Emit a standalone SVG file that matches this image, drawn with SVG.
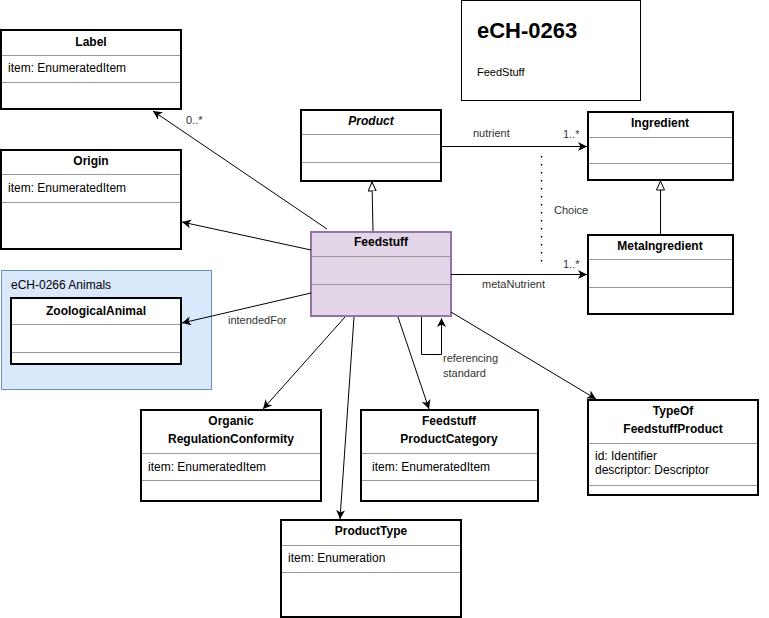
<svg xmlns="http://www.w3.org/2000/svg" width="769" height="618" viewBox="0 0 769 618">
<defs>
<marker id="arr" markerWidth="10" markerHeight="10" refX="9" refY="4.5" orient="auto" markerUnits="userSpaceOnUse">
<path d="M0,0 L9,4.5 L0,9 L2.5,4.5 z" fill="#000"/>
</marker>
<marker id="gen" markerWidth="12" markerHeight="12" refX="9.5" refY="4.5" orient="auto" markerUnits="userSpaceOnUse">
<path d="M0.5,0.5 L9.5,4.5 L0.5,8.5 z" fill="#fff" stroke="#000" stroke-width="1"/>
</marker>
</defs>
<style>
text{font-family:"Liberation Sans",Arial,sans-serif;font-size:12px;fill:#000}
.t{font-weight:bold;text-anchor:middle}
.c{text-anchor:middle}
.box{fill:#fff;stroke:#000;stroke-width:2}
.sep{stroke:#999;stroke-width:1}
.lbl{fill:#333;font-size:11px}
.edge{stroke:#000;stroke-width:1;fill:none}
</style>
<rect width="769" height="618" fill="#fff"/>

<g id="title">
<rect x="461.5" y="0.5" width="179" height="100" fill="#fff" stroke="#000" stroke-width="1"/>
<text x="477" y="38" style="font-size:22px;font-weight:bold">eCH-0263</text>
<text x="477" y="76" style="font-size:11px">FeedStuff</text>
</g>

<g id="animals-pkg">
<rect x="1.5" y="270.5" width="210" height="119" fill="#dae8fc" stroke="#6c8ebf" stroke-width="1"/>
<text x="11" y="289">eCH-0266 Animals</text>
</g>

<g id="label">
<rect class="box" x="1" y="30" width="180" height="79"/>
<line class="sep" x1="2" y1="55.5" x2="180" y2="55.5"/>
<line class="sep" x1="2" y1="82.5" x2="180" y2="82.5"/>
<text class="t" x="91" y="46">Label</text>
<text x="8" y="72">item: EnumeratedItem</text>
</g>

<g id="origin">
<rect class="box" x="1" y="150" width="180" height="99"/>
<line class="sep" x1="2" y1="174.5" x2="180" y2="174.5"/>
<line class="sep" x1="2" y1="202.5" x2="180" y2="202.5"/>
<text class="t" x="91" y="165">Origin</text>
<text x="8" y="192">item: EnumeratedItem</text>
</g>

<g id="zoologicalanimal">
<rect class="box" x="11" y="298" width="170" height="66"/>
<line class="sep" x1="12" y1="324.5" x2="180" y2="324.5"/>
<line class="sep" x1="12" y1="352.5" x2="180" y2="352.5"/>
<text class="t" x="96" y="315">ZoologicalAnimal</text>
</g>

<g id="product">
<rect class="box" x="301" y="110" width="140" height="71"/>
<line class="sep" x1="302" y1="134.5" x2="440" y2="134.5"/>
<line class="sep" x1="302" y1="162.5" x2="440" y2="162.5"/>
<text class="t" x="371" y="125" style="font-style:italic">Product</text>
</g>

<g id="ingredient">
<rect class="box" x="588" y="112" width="145" height="68"/>
<line class="sep" x1="589" y1="137.5" x2="732" y2="137.5"/>
<line class="sep" x1="589" y1="163.5" x2="732" y2="163.5"/>
<text class="t" x="660" y="127">Ingredient</text>
</g>

<g id="metaingredient">
<rect class="box" x="588" y="235" width="145" height="79"/>
<line class="sep" x1="589" y1="259.5" x2="732" y2="259.5"/>
<line class="sep" x1="589" y1="287.5" x2="732" y2="287.5"/>
<text class="t" x="660" y="250">MetaIngredient</text>
</g>

<g id="feedstuff">
<rect x="311" y="232" width="140" height="84" fill="#e1d5e7" stroke="#9673a6" stroke-width="2"/>
<line class="sep" x1="312" y1="256.5" x2="450" y2="256.5"/>
<line class="sep" x1="312" y1="284.5" x2="450" y2="284.5"/>
<text class="t" x="381" y="246">Feedstuff</text>
</g>

<g id="organic">
<rect class="box" x="141" y="410" width="180" height="91"/>
<line class="sep" x1="142" y1="453.5" x2="320" y2="453.5"/>
<line class="sep" x1="142" y1="480.5" x2="320" y2="480.5"/>
<text class="t" x="231" y="425">Organic</text>
<text class="t" x="231" y="443">RegulationConformity</text>
<text x="148" y="471">item: EnumeratedItem</text>
</g>

<g id="productcategory">
<rect class="box" x="361" y="410" width="177" height="91"/>
<line class="sep" x1="362" y1="453.5" x2="537" y2="453.5"/>
<line class="sep" x1="362" y1="480.5" x2="537" y2="480.5"/>
<text class="t" x="449" y="425">Feedstuff</text>
<text class="t" x="449" y="443">ProductCategory</text>
<text x="372" y="471">item: EnumeratedItem</text>
</g>

<g id="typeof">
<rect class="box" x="588" y="400" width="170" height="95"/>
<line class="sep" x1="589" y1="443.5" x2="757" y2="443.5"/>
<line class="sep" x1="589" y1="485.5" x2="757" y2="485.5"/>
<text class="t" x="673" y="415">TypeOf</text>
<text class="t" x="673" y="433">FeedstuffProduct</text>
<text x="595" y="460">id: Identifier</text>
<text x="595" y="474">descriptor: Descriptor</text>
</g>

<g id="producttype">
<rect class="box" x="281" y="520" width="180" height="97"/>
<line class="sep" x1="282" y1="545.5" x2="460" y2="545.5"/>
<line class="sep" x1="282" y1="572.5" x2="460" y2="572.5"/>
<text class="t" x="371" y="535">ProductType</text>
<text x="288" y="562">item: Enumeration</text>
</g>

<g id="connectors">
<line class="edge" x1="327" y1="229" x2="153" y2="111" marker-end="url(#arr)"/>
<text class="lbl" x="186" y="124">0..*</text>
<line class="edge" x1="311" y1="250" x2="182" y2="222" marker-end="url(#arr)"/>
<line class="edge" x1="311" y1="293" x2="182" y2="323" marker-end="url(#arr)"/>
<text class="lbl" x="228" y="324">intendedFor</text>
<line class="edge" x1="373" y1="231" x2="372" y2="182" marker-end="url(#gen)"/>
<line class="edge" x1="441" y1="146.5" x2="587" y2="146.5" marker-end="url(#arr)"/>
<text class="lbl" x="473" y="137">nutrient</text>
<text class="lbl" x="563" y="138">1..*</text>
<line x1="541.5" y1="156" x2="541.5" y2="262" stroke="#000" stroke-width="1.5" stroke-dasharray="1.5 6.5"/>
<text class="lbl" x="554" y="214">Choice</text>
<line class="edge" x1="660.5" y1="234" x2="660.5" y2="181" marker-end="url(#gen)"/>
<line class="edge" x1="451" y1="274.5" x2="587" y2="274.5" marker-end="url(#arr)"/>
<text class="lbl" x="482" y="288">metaNutrient</text>
<text class="lbl" x="563" y="268">1..*</text>
<polyline class="edge" points="421.5,317 421.5,354.5 441.5,354.5 441.5,318" marker-end="url(#arr)"/>
<text class="lbl" x="443" y="362">referencing</text>
<text class="lbl" x="443" y="377">standard</text>
<line class="edge" x1="345" y1="317" x2="263" y2="409" marker-end="url(#arr)"/>
<line class="edge" x1="354" y1="317" x2="340" y2="519" marker-end="url(#arr)"/>
<line class="edge" x1="398" y1="317" x2="429" y2="409" marker-end="url(#arr)"/>
<line class="edge" x1="451" y1="312" x2="596" y2="399" marker-end="url(#arr)"/>
</g>
</svg>
